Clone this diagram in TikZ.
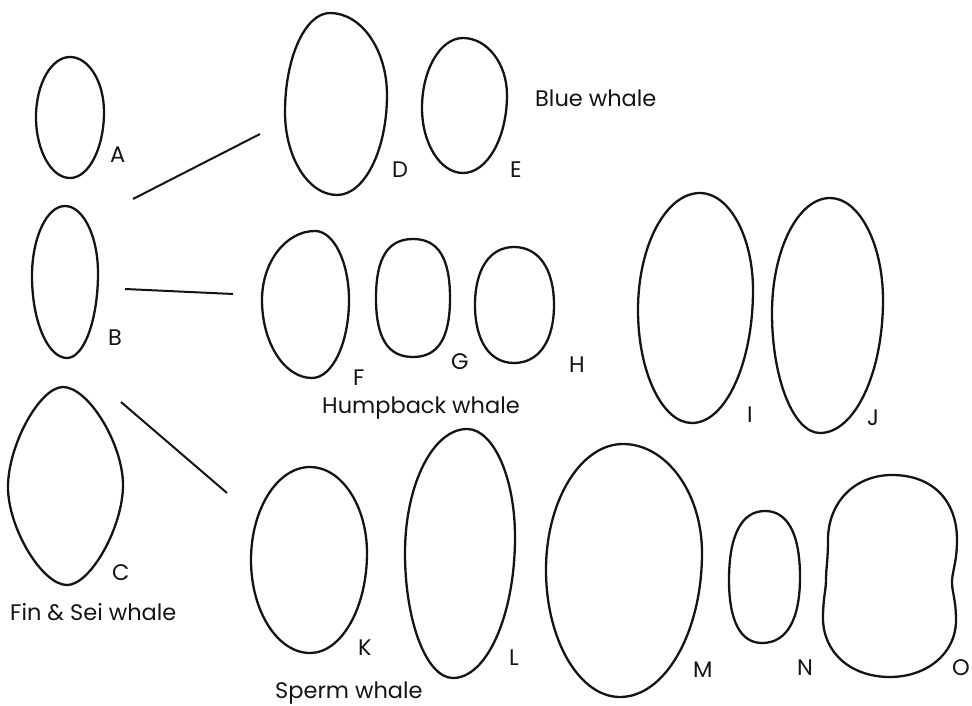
\documentclass[tikz,border=0pt]{standalone}
\usepackage{fontspec}
\setmainfont{Poppins}
\usepackage{tikz}
\usetikzlibrary{positioning,calc}
\definecolor{InkBlack}{RGB}{20,20,20}
\tikzset{
  egg/.style={draw=InkBlack,line width=2.3pt,line join=round},
  link/.style={draw=InkBlack,line width=2pt},
  lab/.style={anchor=base west,inner sep=0pt,text=InkBlack,font=\fontsize{22.5}{23}\selectfont},
}
\tikzset{kind/.style={lab}}
% outline through top, right, bottom, left points; #9 = roundness
\newcommand\eggshape[9]{%
  \draw[egg] (#1,#2)
    .. controls ({#1+#9*(#3-#1)},#2) and (#3,{#4-#9*(#4-#2)}) .. (#3,#4)
    .. controls (#3,{#4+#9*(#6-#4)}) and ({#5+#9*(#3-#5)},#6) .. (#5,#6)
    .. controls ({#5-#9*(#5-#7)},#6) and (#7,{#8+#9*(#6-#8)}) .. (#7,#8)
    .. controls (#7,{#8-#9*(#8-#2)}) and ({#1-#9*(#1-#7)},#2) .. (#1,#2) -- cycle;}

\begin{document}
\begin{tikzpicture}[x=1pt,y=-1pt]
\useasboundingbox (0,0) rectangle (972,706);
% eggs, left column
\eggshape{70}{57}{104}{112}{70}{178}{36}{117}{0.55}
\eggshape{65}{206}{98}{273}{67}{358}{32}{276}{0.55}
\eggshape{63}{387}{123}{485}{67}{585}{8}{487}{0.42}
% blue whale
\eggshape{330}{13}{387}{95}{337}{195}{285}{112}{0.55}
\eggshape{463}{38}{507}{95}{463}{173}{422}{108}{0.55}
% humpback whale
\eggshape{315}{231}{349}{300}{312}{378}{262}{300}{0.55}
\eggshape{413}{239}{450}{298}{413}{357}{376}{298}{0.68}
\eggshape{514}{247}{554}{305}{514}{363}{475}{305}{0.62}
\eggshape{700}{193}{753}{290}{692}{423}{638}{310}{0.55}
\eggshape{830}{198}{883}{300}{820}{433}{772}{313}{0.55}
% sperm whale
\eggshape{310}{467}{367}{553}{310}{653}{251}{560}{0.55}
\eggshape{467}{429}{515}{537}{453}{678}{405}{553}{0.55}
\eggshape{623}{444}{702}{553}{620}{697}{546}{570}{0.55}
\eggshape{765}{511}{800}{577}{762}{643}{729}{580}{0.65}
\draw[egg] (892,475) .. controls (932,475) and (957,500) .. (957,540)
  .. controls (957,562) and (952,572) .. (952,582)
  .. controls (952,592) and (956,600) .. (956,620)
  .. controls (956,655) and (925,677) .. (890,677)
  .. controls (850,677) and (823,652) .. (823,618)
  .. controls (823,598) and (826,590) .. (826,580)
  .. controls (826,568) and (828,560) .. (828,540)
  .. controls (828,502) and (855,475) .. (892,475) -- cycle;
% links
\coordinate (ab) at (133,199);
\coordinate (dl) at (260,134);
\coordinate (bf) at (125,289);
\coordinate (fl) at (233,294);
\coordinate (ck) at (121,402);
\coordinate (kl) at (227,493);
\draw[link] (ab)--(dl);
\draw[link] (bf)--(fl);
\draw[link] (ck)--(kl);
% letters
\node[lab] (la) at (110,163) {A};
\node[lab] (lb) at (108,345) {B};
\node[lab] (lc) at (112,580) {C};
\node[lab] (ld) at (392,177) {D};
\node[lab] (le) at (510,177) {E};
\node[lab] (lf) at (353,385) {F};
\node[lab] (lg) at (451,369) {G};
\node[lab] (lh) at (569,372) {H};
\node[lab] (li) at (747,422) {I};
\node[lab] (lj) at (867,425) {J};
\node[lab] (lk) at (358,655) {K};
\node[lab] (ll) at (509,665) {L};
\node[lab] (lm) at (693,677) {M};
\node[lab] (ln) at (797,675) {N};
\node[lab] (lo) at (952,675) {O};
% species
\node[kind] (blue) at (535,107) {Blue whale};
\node[kind] (hump) at (322,413) {Humpback whale};
\node[kind] (fin) at (10,620) {Fin \& Sei whale};
\node[kind] (sperm) at (275,698) {Sperm whale};
\end{tikzpicture}
\end{document}
